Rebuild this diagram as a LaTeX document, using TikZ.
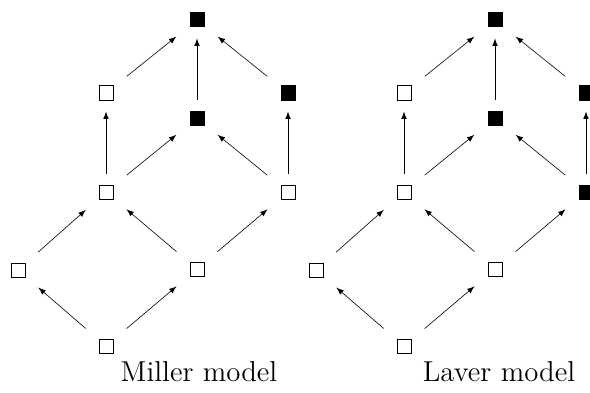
\documentclass[tikz,border=0pt]{standalone}
\usepackage{tikz}

\begin{document}
\begin{tikzpicture}[x=0.5pt,y=0.5pt,
    open/.style={draw,line width=0.5pt,minimum size=7pt,inner sep=0pt},
    closed/.style={open,fill=black},
    edge/.style={-latex,line width=0.3pt,shorten <=8.5pt,shorten >=8.5pt},
    up/.style={edge,shorten <=5.5pt,shorten >=5.5pt}]
    \useasboundingbox (0,0) rectangle (590,392);

    % Miller model
    \node[open] (mb) at (106,46) {};
    \node[open] (ml) at (18,122) {};
    \node[open] (mm) at (197,123) {};
    \node[open] (mml) at (106,200) {};
    \node[open] (mmr) at (288,200) {};
    \node[closed] (mc) at (197,274) {};
    \node[open] (mul) at (106,299) {};
    \node[closed] (mur) at (288,299) {};
    \node[closed] (mt) at (197,372) {};

    \draw[edge] (mb) -- (ml);
    \draw[edge] (mb) -- (mm);
    \draw[edge] (ml) -- (mml);
    \draw[edge] (mm) -- (mml);
    \draw[edge] (mm) -- (mmr);
    \draw[up] (mml) -- (mul);
    \draw[edge] (mml) -- (mc);
    \draw[edge] (mmr) -- (mc);
    \draw[up] (mmr) -- (mur);
    \draw[up] (mc) -- (mt);
    \draw[edge] (mul) -- (mt);
    \draw[edge] (mur) -- (mt);

    \node[anchor=base,font=\Large] (mlabel) at (199,11) {Miller model};

    % Laver model
    \node[open] (lb) at (404,46) {};
    \node[open] (ll) at (316,122) {};
    \node[open] (lm) at (495,123) {};
    \node[open] (lml) at (404,200) {};
    \node[closed] (lmr) at (586,200) {};
    \node[closed] (lc) at (495,274) {};
    \node[open] (lul) at (404,299) {};
    \node[closed] (lur) at (586,299) {};
    \node[closed] (lt) at (495,372) {};

    \draw[edge] (lb) -- (ll);
    \draw[edge] (lb) -- (lm);
    \draw[edge] (ll) -- (lml);
    \draw[edge] (lm) -- (lml);
    \draw[edge] (lm) -- (lmr);
    \draw[up] (lml) -- (lul);
    \draw[edge] (lml) -- (lc);
    \draw[edge] (lmr) -- (lc);
    \draw[up] (lmr) -- (lur);
    \draw[up] (lc) -- (lt);
    \draw[edge] (lul) -- (lt);
    \draw[edge] (lur) -- (lt);

    \node[anchor=base,font=\Large] (llabel) at (499,11) {Laver model};

\end{tikzpicture}
\end{document}
